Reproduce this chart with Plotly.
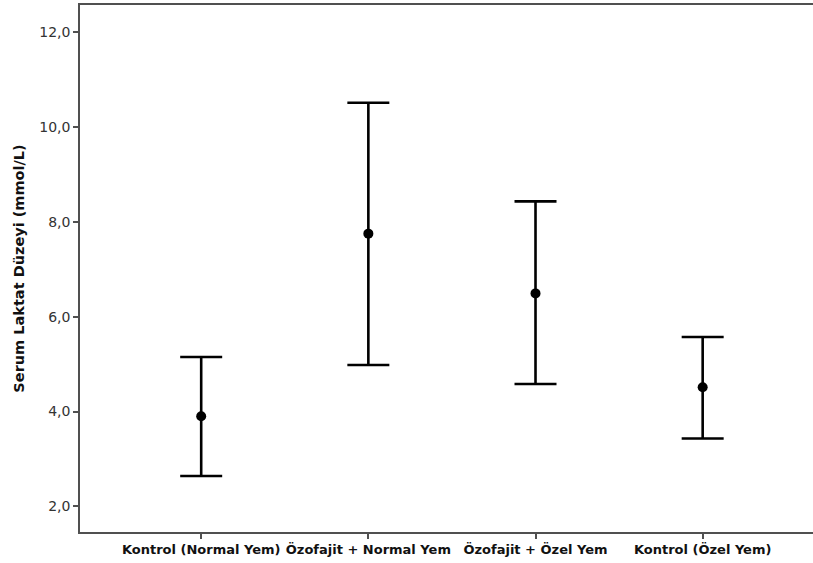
import plotly.graph_objects as go

# Serum lactate by group: mean with 95% CI bounds
groups = ["Kontrol (Normal Yem)", "Özofajit + Normal Yem", "Özofajit + Özel Yem", "Kontrol (Özel Yem)"]
means = [3.90, 7.75, 6.49, 4.51]
lower = [2.64, 4.98, 4.58, 3.43]
upper = [5.15, 10.51, 8.43, 5.57]
y_ticks = [2, 4, 6, 8, 10, 12]

err_plus = [u - m for u, m in zip(upper, means)]
err_minus = [m - l for m, l in zip(means, lower)]

fig = go.Figure(
    go.Scatter(
        x=groups,
        y=means,
        mode="markers",
        marker=dict(color="black", size=10),
        error_y=dict(
            type="data",
            symmetric=False,
            array=err_plus,
            arrayminus=err_minus,
            color="black",
            thickness=2.6,
            width=21,
        ),
        showlegend=False,
    )
)

fig.update_layout(
    width=813,
    height=563,
    margin=dict(l=80, r=0, t=5, b=31),
    plot_bgcolor="white",
    paper_bgcolor="white",
    separators=", ",
    font=dict(family="DejaVu Sans, sans-serif", color="#222"),
)

fig.update_xaxes(
    type="category",
    range=[-0.725, 3.66],
    showline=True,
    linecolor="#505050",
    linewidth=1.5,
    mirror=True,
    ticks="outside",
    ticklen=5,
    tickcolor="#505050",
    tickwidth=1.5,
    showgrid=False,
    tickfont=dict(size=13, color="#111", family="DejaVu Sans, sans-serif", weight="bold"),
)

fig.update_yaxes(
    range=[1.46, 12.57],
    tickvals=y_ticks,
    tickformat=".1f",
    showline=True,
    linecolor="#505050",
    linewidth=1.5,
    ticks="outside",
    ticklen=5,
    tickcolor="#505050",
    tickwidth=1.5,
    showgrid=False,
    zeroline=False,
    tickfont=dict(size=14, color="#333", family="DejaVu Sans, sans-serif"),
    title=dict(
        text="Serum Laktat Düzeyi (mmol/L)",
        font=dict(size=14.5, color="#111", family="DejaVu Sans, sans-serif", weight="bold"),
        standoff=11,
    ),
)

fig.write_html("out.html")
